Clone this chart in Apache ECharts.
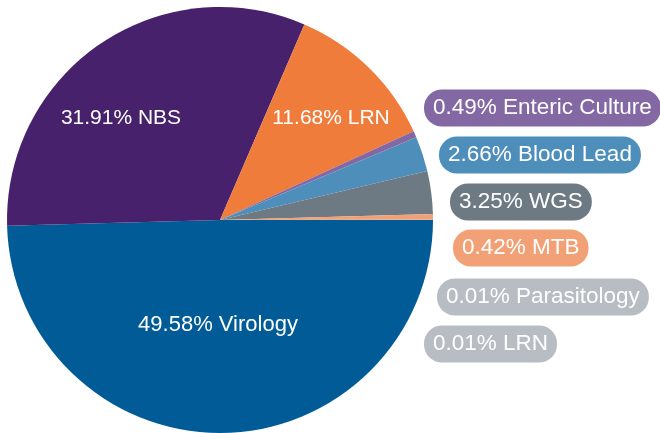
<!DOCTYPE html>
<html>
<head>
<meta charset="utf-8">
<script src="https://cdn.jsdelivr.net/npm/echarts@6/dist/echarts.min.js"></script>
<style>
html,body{margin:0;padding:0;background:#fff;}
#chart{width:660px;height:433px;}
</style>
</head>
<body>
<div id="chart"></div>
<script>
// Data
var categories = ['Virology', 'NBS', 'LRN', 'Enteric Culture', 'Blood Lead', 'WGS', 'MTB', 'Parasitology', 'LRN'];
var percents = [49.58, 31.91, 11.68, 0.49, 2.66, 3.25, 0.42, 0.01, 0.01];

// Styles
var colors = ['#005b96', '#47216c', '#ef7c3b', '#8468a3', '#4d8ebb', '#6d7a83', '#f2a075', '#b7bdc3', '#b7bdc3'];
var insideIdx = [0, 1, 2];
// label layout: [x, y, align]
var labelPos = [
  [218, 325, 'center'],
  [121, 118, 'center'],
  [331, 118, 'center'],
  [424, 108, 'left'],
  [439, 155, 'left'],
  [450, 202, 'left'],
  [453, 248, 'left'],
  [437, 297, 'left'],
  [424, 344, 'left']
];

var data = categories.map(function (c, i) {
  var inside = insideIdx.indexOf(i) >= 0;
  return {
    name: c,
    value: percents[i],
    itemStyle: { color: colors[i] },
    label: inside ? {
      color: '#ffffff',
      fontSize: i === 0 ? 22 : 21,
      fontFamily: 'Liberation Sans',
      backgroundColor: 'transparent'
    } : {
      color: '#ffffff',
      fontSize: 22.5,
      fontFamily: 'Liberation Sans',
      backgroundColor: colors[i],
      borderRadius: 18,
      padding: [8, 9, 6, 9]
    }
  };
});

var chart = echarts.init(document.getElementById('chart'), null, { renderer: 'canvas' });
chart.setOption({
  animation: false,
  series: [{
    type: 'pie',
    center: [220, 220],
    radius: [0, 213],
    startAngle: 0,
    clockwise: true,
    avoidLabelOverlap: false,
    minShowLabelAngle: 0,
    label: {
      show: true,
      position: 'outside',
      formatter: function (p) { return p.value.toFixed(2) + '% ' + p.name; }
    },
    labelLine: { show: false },
    labelLayout: function (params) {
      var p = labelPos[params.dataIndex];
      return { x: p[0], y: p[1], align: p[2], verticalAlign: 'middle', hideOverlap: false };
    },
    emphasis: { disabled: true },
    data: data
  }]
});
</script>
</body>
</html>
